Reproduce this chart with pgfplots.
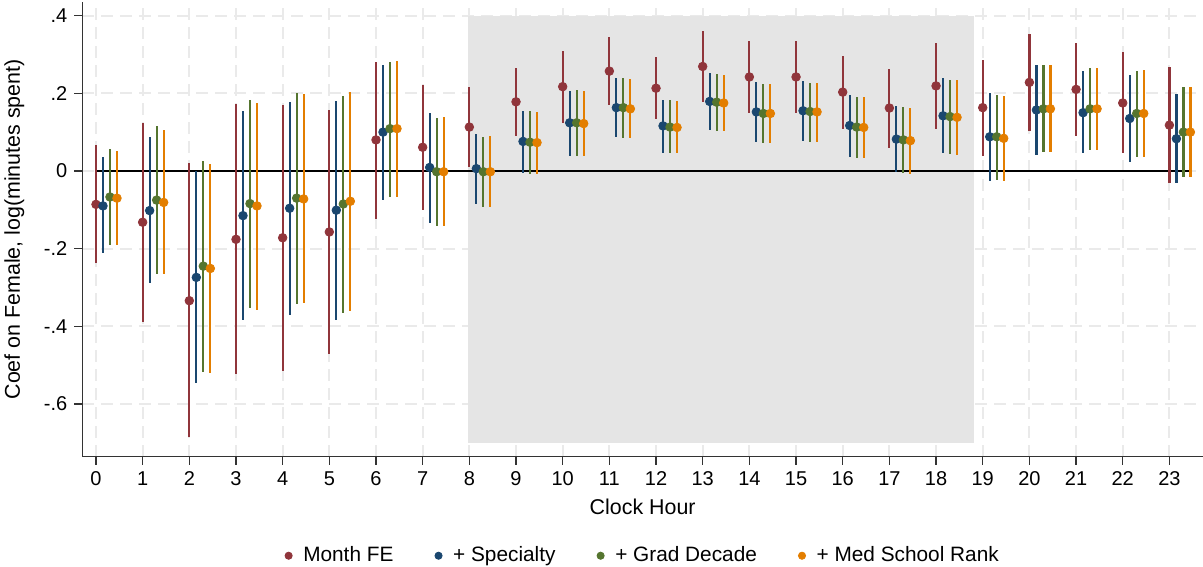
\documentclass[border=0pt]{standalone}
\usepackage{fontspec}
\setmainfont{Liberation Sans}
\usepackage{pgfplots}
\usepackage{pgfplotstable}
\pgfplotsset{compat=1.18}
\definecolor{cMonth}{RGB}{144,53,59}
\definecolor{cSpec}{RGB}{26,71,111}
\definecolor{cGrad}{RGB}{85,117,47}
\definecolor{cMed}{RGB}{227,126,0}
\definecolor{cGrid}{RGB}{234,234,234}
\definecolor{cShade}{RGB}{229,229,229}

\pgfplotstableread{
h b lo hi
0 -0.086 -0.238 0.066
1 -0.132 -0.388 0.124
2 -0.334 -0.686 0.021
3 -0.176 -0.523 0.172
4 -0.172 -0.515 0.169
5 -0.157 -0.471 0.157
6 0.080 -0.123 0.281
7 0.061 -0.100 0.221
8 0.113 0.011 0.215
9 0.178 0.091 0.265
10 0.217 0.124 0.310
11 0.257 0.169 0.344
12 0.213 0.133 0.293
13 0.269 0.178 0.360
14 0.242 0.149 0.334
15 0.242 0.149 0.334
16 0.203 0.109 0.295
17 0.162 0.060 0.263
18 0.219 0.109 0.329
19 0.163 0.039 0.285
20 0.228 0.103 0.353
21 0.210 0.089 0.329
22 0.175 0.045 0.305
23 0.118 -0.030 0.267
}\tMonth

\pgfplotstableread{
h b lo hi
0 -0.090 -0.212 0.035
1 -0.102 -0.289 0.088
2 -0.274 -0.547 0.000
3 -0.115 -0.384 0.154
4 -0.096 -0.371 0.178
5 -0.101 -0.383 0.180
6 0.100 -0.075 0.272
7 0.009 -0.133 0.148
8 0.006 -0.085 0.095
9 0.076 -0.004 0.154
10 0.124 0.039 0.207
11 0.163 0.088 0.239
12 0.116 0.047 0.183
13 0.179 0.105 0.253
14 0.152 0.075 0.228
15 0.155 0.077 0.231
16 0.117 0.036 0.195
17 0.082 -0.003 0.168
18 0.142 0.045 0.239
19 0.088 -0.026 0.200
20 0.157 0.042 0.272
21 0.150 0.045 0.257
22 0.135 0.023 0.246
23 0.083 -0.032 0.198
}\tSpec

\pgfplotstableread{
h b lo hi
0 -0.067 -0.190 0.057
1 -0.075 -0.266 0.115
2 -0.245 -0.517 0.026
3 -0.084 -0.353 0.183
4 -0.070 -0.342 0.200
5 -0.085 -0.366 0.194
6 0.109 -0.066 0.281
7 -0.002 -0.142 0.136
8 -0.002 -0.092 0.088
9 0.074 -0.007 0.154
10 0.124 0.038 0.208
11 0.163 0.086 0.239
12 0.113 0.045 0.182
13 0.177 0.102 0.250
14 0.148 0.073 0.224
15 0.153 0.075 0.227
16 0.113 0.034 0.190
17 0.080 -0.006 0.165
18 0.140 0.044 0.235
19 0.088 -0.024 0.196
20 0.160 0.048 0.272
21 0.160 0.054 0.264
22 0.148 0.037 0.257
23 0.100 -0.015 0.216
}\tGrad

\pgfplotstableread{
h b lo hi
0 -0.070 -0.190 0.051
1 -0.081 -0.266 0.106
2 -0.251 -0.519 0.019
3 -0.090 -0.357 0.176
4 -0.072 -0.341 0.197
5 -0.078 -0.360 0.203
6 0.109 -0.066 0.283
7 -0.002 -0.142 0.139
8 -0.002 -0.092 0.089
9 0.073 -0.007 0.152
10 0.122 0.038 0.207
11 0.160 0.086 0.236
12 0.112 0.045 0.181
13 0.175 0.102 0.248
14 0.148 0.071 0.223
15 0.152 0.075 0.226
16 0.112 0.033 0.190
17 0.078 -0.008 0.163
18 0.138 0.041 0.233
19 0.084 -0.027 0.194
20 0.160 0.048 0.272
21 0.160 0.054 0.264
22 0.148 0.037 0.259
23 0.100 -0.015 0.216
}\tMed

\pgfplotsset{
  cibar/.style={
    only marks, mark=*, mark size=2.15pt, color=#1, mark options={fill=#1, draw=#1},
    error bars/.cd, y dir=both, y explicit, error mark=none,
    error bar style={line width=1.1pt, color=#1},
  },
}

\begin{document}
\begin{tikzpicture}
\begin{axis}[
  name=ax,
  scale only axis,
  width=560.3pt, height=227.3pt,
  xmin=-0.293, xmax=23.72,
  ymin=-0.7354, ymax=0.435,
  axis x line*=bottom, axis y line*=left,
  axis line style={draw=black!80, line width=0.8pt},
  tick align=outside,
  major tick length=4pt,
  tick style={draw=black!80, line width=0.7pt},
  xtick={0,1,...,23},
  ytick={-0.6,-0.4,-0.2,0,0.2,0.4},
  yticklabels={-.6,-.4,-.2,0,.2,.4},
  /pgf/number format/assume math mode=true,
  tick label style={font=\fontsize{10}{12}\selectfont},
  grid=major,
  major grid style={draw=cGrid, line width=1pt, dash pattern=on 6pt off 3.5pt},
  every axis y label/.style={at={(axis description cs:0,0.5)}, xshift=-34pt, rotate=90, anchor=center},
  every axis x label/.style={at={(axis description cs:0.5,0)}, yshift=-25pt, anchor=center},
  label style={font=\fontsize{10.7}{13}\selectfont},
  ylabel={Coef on Female, log(minutes spent)},
  xlabel={Clock Hour},
  legend style={at={(0.5,-0.218)}, anchor=center, draw=none, fill=none,
    font=\fontsize{10.4}{12}\selectfont, legend columns=4,
    /tikz/every even column/.append style={column sep=17.5pt},
    inner sep=0pt},
  legend image code/.code={\path (0cm,0cm) (0.28cm,0cm); \draw[#1, mark size=1.8pt] plot coordinates {(0.1cm,0cm)};},
  legend cell align=left,
  clip=false,
]
\addplot[fill=cShade, draw=none, forget plot] coordinates {(7.97,-0.70) (18.82,-0.70) (18.82,0.40) (7.97,0.40)} -- cycle;
\addplot[black, line width=1pt, forget plot] coordinates {(0,0) (23.45,0)};

\addplot[cibar=cMonth] table[x expr=\thisrow{h}, y=b, y error plus expr=\thisrow{hi}-\thisrow{b}, y error minus expr=\thisrow{b}-\thisrow{lo}] {\tMonth};
\addlegendentry{Month FE}
\addplot[cibar=cSpec] table[x expr=\thisrow{h}+0.15, y=b, y error plus expr=\thisrow{hi}-\thisrow{b}, y error minus expr=\thisrow{b}-\thisrow{lo}] {\tSpec};
\addlegendentry{+ Specialty}
\addplot[cibar=cGrad] table[x expr=\thisrow{h}+0.3, y=b, y error plus expr=\thisrow{hi}-\thisrow{b}, y error minus expr=\thisrow{b}-\thisrow{lo}] {\tGrad};
\addlegendentry{+ Grad Decade}
\addplot[cibar=cMed] table[x expr=\thisrow{h}+0.45, y=b, y error plus expr=\thisrow{hi}-\thisrow{b}, y error minus expr=\thisrow{b}-\thisrow{lo}] {\tMed};
\addlegendentry{+ Med School Rank}
\end{axis}
\pgfresetboundingbox
\path ([xshift=-41.15pt,yshift=-55.15pt]ax.south west) rectangle ([yshift=1pt]ax.north east);
\end{tikzpicture}
\end{document}
